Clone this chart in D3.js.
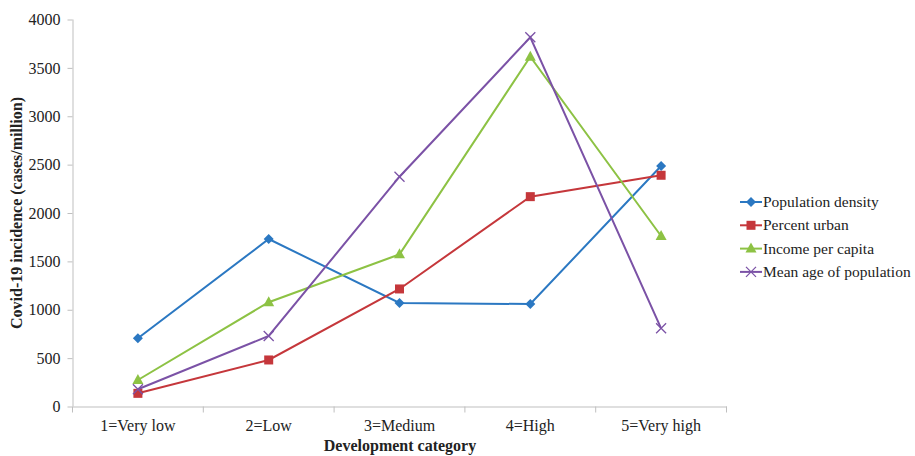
<!DOCTYPE html>
<html><head><meta charset="utf-8">
<script src="https://cdn.jsdelivr.net/npm/d3@7"></script>
<style>body{margin:0;background:#fff}svg{display:block}svg text{font-family:'Liberation Serif','Times New Roman','DejaVu Serif',serif !important}</style>
</head><body><svg id="c" width="915" height="456"></svg>
<script>
const categories = ["1=Very low","2=Low","3=Medium","4=High","5=Very high"];
const seriesNames = ["Population density","Percent urban","Income per capita","Mean age of population"];
const popDensity = [705, 1731, 1070, 1059, 2486];
const percentUrban = [136, 481, 1215, 2169, 2390];
const incomePerCapita = [274, 1078, 1573, 3616, 1762];
const meanAge = [178, 729, 2375, 3816, 808];
const yTicks = [0,500,1000,1500,2000,2500,3000,3500,4000];
const colors = ["#2b78c2","#c5373b","#8dc244","#7b52a6"];
const symbols = ["diamond","square","triangle","cross"];
const values = [popDensity, percentUrban, incomePerCapita, meanAge];
const FONT = "'Liberation Serif','Times New Roman','DejaVu Serif',serif";

const svg = d3.select("#c");
const m = {l:72.5, r:188.5, t:19.5, b:49.5};
const W = 915, H = 456;
const x = d3.scaleBand().domain(categories).range([m.l, W-m.r]);
const y = d3.scaleLinear().domain([0,4000]).range([H-m.b, m.t]);

const ya = svg.append("g").attr("transform",`translate(${m.l},0)`)
  .call(d3.axisLeft(y).tickValues(yTicks).tickSize(5).tickPadding(7).tickFormat(d3.format("d")));
const xa = svg.append("g").attr("transform",`translate(0,${H-m.b})`)
  .call(d3.axisBottom(x).tickSize(0).tickPadding(13));
[ya,xa].forEach(g=>{g.attr("font-family",FONT);
  g.selectAll("path,line").attr("stroke","#bfbfbf").attr("stroke-width",1);
  g.selectAll("text").attr("font-size",16).attr("fill","#222");});
ya.select(".domain").attr("d",`M0.5,${m.t}V${H-m.b}`);
const bounds = categories.map(c=>x(c)).concat([x(categories[categories.length-1])+x.bandwidth()]);
svg.append("g").selectAll("line").data(bounds).join("line")
  .attr("x1",d=>d).attr("x2",d=>d).attr("y1",H-m.b).attr("y2",H-m.b+6)
  .attr("stroke","#bfbfbf");

const cx = c => x(c)+x.bandwidth()/2;
const line = d3.line().x((d,i)=>cx(categories[i])).y(d=>y(d));

function marker(g, type, color, px, py){
  if(type==="diamond"){
    g.append("path").attr("d",`M${px},${py-5}L${px+5},${py}L${px},${py+5}L${px-5},${py}Z`).attr("fill",color);
  } else if(type==="square"){
    g.append("rect").attr("x",px-4.5).attr("y",py-4.5).attr("width",9).attr("height",9).attr("fill",color);
  } else if(type==="triangle"){
    g.append("path").attr("d",`M${px},${py-6}L${px+5.5},${py+4}L${px-5.5},${py+4}Z`).attr("fill",color);
  } else {
    g.append("path").attr("d",`M${px-5},${py-5}L${px+5},${py+5}M${px+5},${py-5}L${px-5},${py+5}`)
      .attr("stroke",color).attr("stroke-width",1.3).attr("fill","none");
  }
}

values.forEach((vals,si)=>{
  const g = svg.append("g");
  g.append("path").datum(vals).attr("d",line).attr("fill","none")
    .attr("stroke",colors[si]).attr("stroke-width",2);
  vals.forEach((v,i)=>marker(g, symbols[si], colors[si], cx(categories[i]), y(v)));
});

const lg = svg.append("g").attr("font-family",FONT);
seriesNames.forEach((n,i)=>{
  const ly = 202 + i*23.3;
  lg.append("line").attr("x1",740).attr("x2",762).attr("y1",ly).attr("y2",ly)
    .attr("stroke",colors[i]).attr("stroke-width",2);
  marker(lg, symbols[i], colors[i], 751, ly);
  lg.append("text").attr("x",763).attr("y",ly+5).attr("font-size",15.5).attr("fill","#222").text(n);
});

svg.append("text").attr("x",400).attr("y",451).attr("text-anchor","middle").attr("font-family",FONT)
  .attr("font-size",16).attr("font-weight","bold").attr("fill","#222").text("Development category");
svg.append("text").attr("transform","translate(22,213) rotate(-90)").attr("text-anchor","middle").attr("font-family",FONT)
  .attr("font-size",16).attr("font-weight","bold").attr("fill","#222").text("Covid-19 incidence (cases/million)");
</script></body></html>
